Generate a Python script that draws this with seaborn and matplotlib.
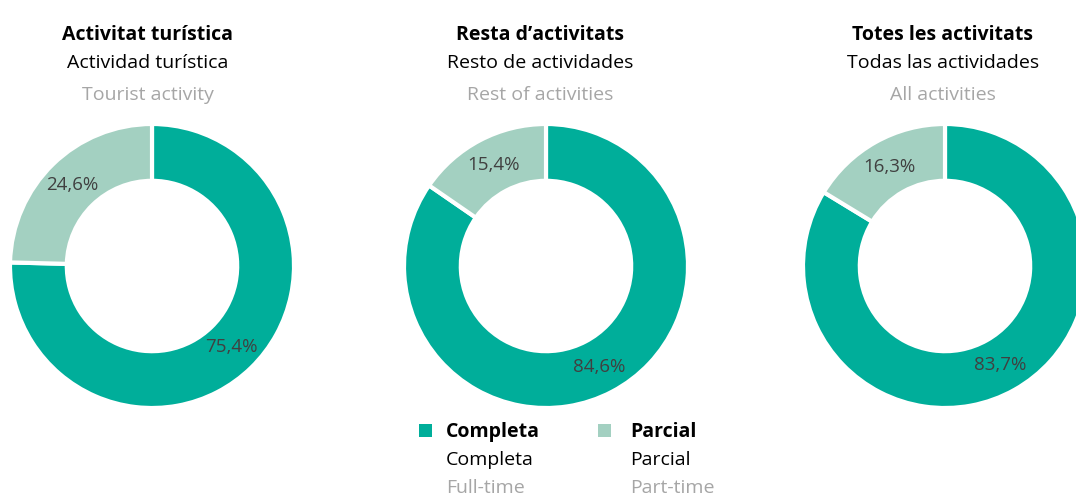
import matplotlib.pyplot as plt
import seaborn as sns
from matplotlib.patches import Rectangle

# data
groups_ca = ["Activitat turística", "Resta d’activitats", "Totes les activitats"]
groups_es = ["Actividad turística", "Resto de actividades", "Todas las actividades"]
groups_en = ["Tourist activity", "Rest of activities", "All activities"]
full_time = [75.4, 84.6, 83.7]
part_time = [24.6, 15.4, 16.3]
legend_ca = ["Completa", "Parcial"]
legend_es = ["Completa", "Parcial"]
legend_en = ["Full-time", "Part-time"]

sns.set_theme(style="white")
plt.rcParams["font.family"] = ["Open Sans", "DejaVu Sans"]

colors = ["#00AE9A", "#A3D0C1"]
W, H = 1076, 498
fig = plt.figure(figsize=(W / 100, H / 100), dpi=100)

centers_x = [152, 546, 945]
title_x = [148, 540, 943]
cy, r = 266, 142
fs = 14

def fmt(v):
    return f"{v:.1f}".replace(".", ",") + "%"

for i in range(3):
    ax = fig.add_axes([(centers_x[i] - r) / W, 1 - (cy + r) / H, 2 * r / W, 2 * r / H])
    vals = [full_time[i], part_time[i]]
    ax.pie(vals, colors=colors, startangle=90, counterclock=False,
           radius=1.0, wedgeprops=dict(width=0.4, edgecolor="white", linewidth=3),
           labels=[fmt(v) for v in vals], labeldistance=0.8,
           textprops=dict(color="#404040", fontsize=13.5, ha="center", va="center"))
    ax.set_xlim(-1, 1)
    ax.set_ylim(-1, 1)
    ax.set_aspect("auto")
    ax.axis("off")

    fig.text(title_x[i] / W, 1 - 35 / H, groups_ca[i], ha="center", va="center",
             fontsize=fs, fontweight="bold", color="black")
    fig.text(title_x[i] / W, 1 - 63 / H, groups_es[i], ha="center", va="center",
             fontsize=fs, color="black")
    fig.text(title_x[i] / W, 1 - 95 / H, groups_en[i], ha="center", va="center",
             fontsize=fs, color="#A6A6A6")

# legend
box_x = [419, 598]
text_x = [446, 630]
for j in range(2):
    fig.patches.append(Rectangle((box_x[j] / W, 1 - 437 / H), 13 / W, 13 / H,
                                 transform=fig.transFigure, facecolor=colors[j],
                                 edgecolor="none"))
    fig.text(text_x[j] / W, 1 - 432 / H, legend_ca[j], ha="left", va="center",
             fontsize=fs, fontweight="bold", color="black")
    fig.text(text_x[j] / W, 1 - 460 / H, legend_es[j], ha="left", va="center",
             fontsize=fs, color="black")
    fig.text(text_x[j] / W, 1 - 488 / H, legend_en[j], ha="left", va="center",
             fontsize=fs, color="#A6A6A6")

fig.savefig("out.png", dpi=100, facecolor="white")
